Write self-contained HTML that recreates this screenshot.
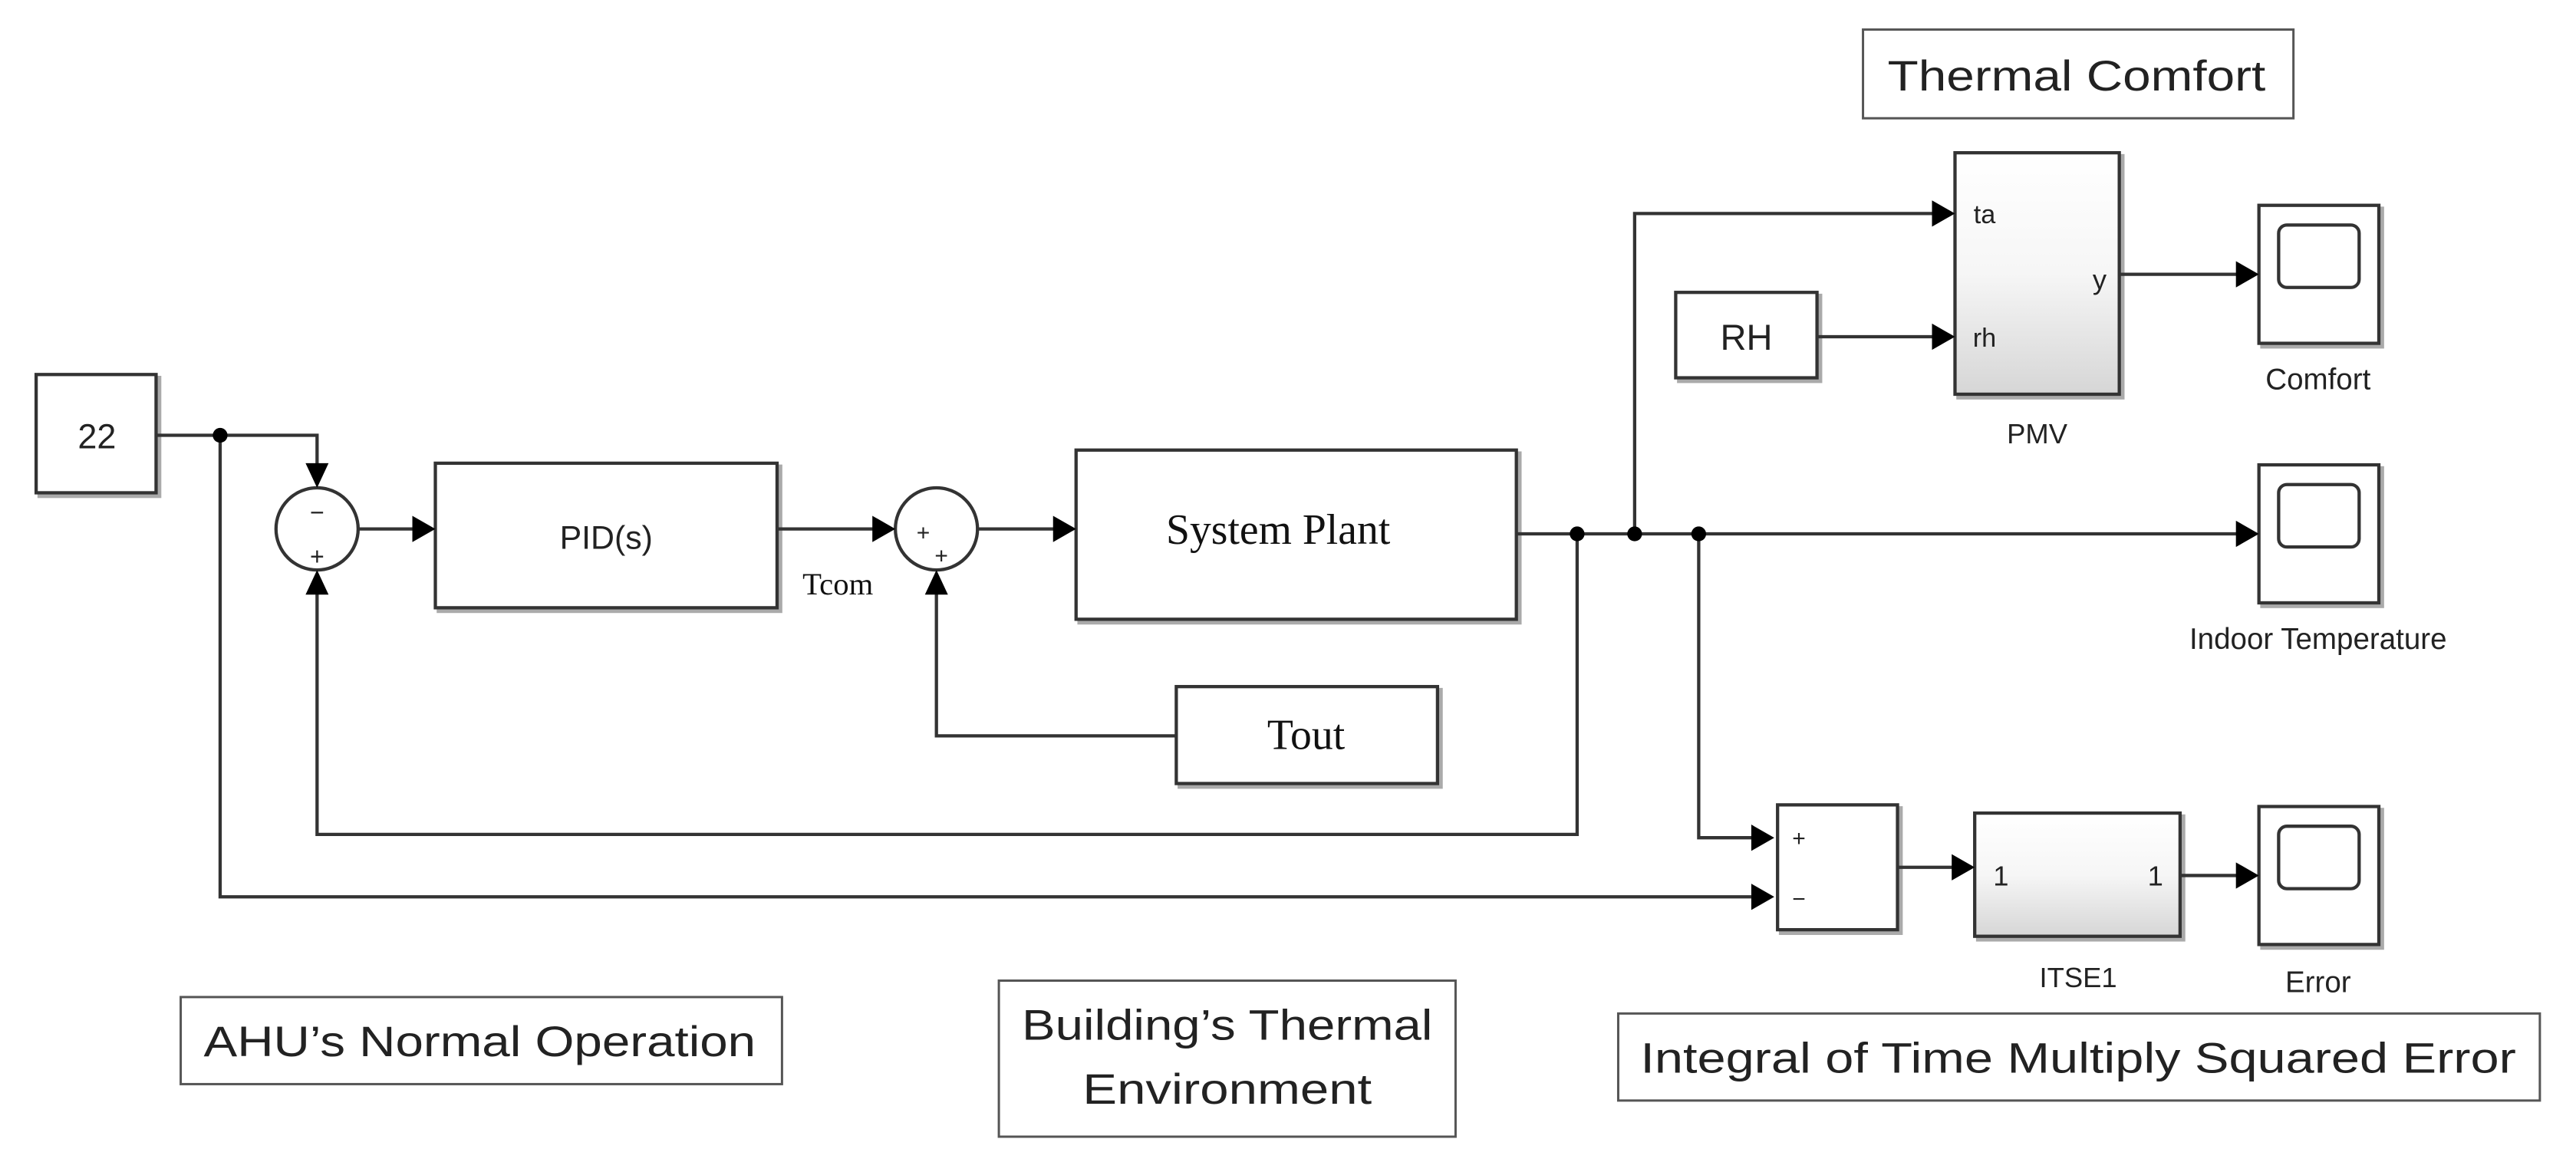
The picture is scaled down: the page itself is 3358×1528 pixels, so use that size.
<!DOCTYPE html>
<html><head><meta charset="utf-8"><style>html,body{margin:0;padding:0;background:#fff}svg{display:block}</style></head>
<body>
<svg width="3358" height="1528" viewBox="0 0 1568 713.5" preserveAspectRatio="none" xmlns="http://www.w3.org/2000/svg">
<defs>
<linearGradient id="g" x1="0" y1="0" x2="0" y2="1"><stop offset="0" stop-color="#fff"/><stop offset="0.5" stop-color="#f6f6f6"/><stop offset="1" stop-color="#d6d6d6"/></linearGradient>
</defs>
<g fill="none" stroke="#333" stroke-width="2">
<g stroke="#aaa" stroke-width="2.4">
<rect x="24" y="230" width="73" height="72"/><rect x="267" y="284" width="208" height="88"/><rect x="657" y="276" width="268" height="103"/><rect x="718" y="420" width="159" height="59"/><rect x="1192" y="95" width="100" height="147"/><rect x="1022" y="180" width="86" height="52"/><rect x="1377" y="127" width="73" height="84"/><rect x="1377" y="285" width="73" height="84"/><rect x="1084" y="492" width="73" height="76"/><rect x="1204" y="497" width="125" height="75"/><rect x="1377" y="493" width="73" height="84"/>
</g>
<rect x="22" y="228" width="73" height="72" fill="#fff"/>
<rect x="265" y="282" width="208" height="88" fill="#fff"/>
<rect x="655" y="274" width="268" height="103" fill="#fff"/>
<rect x="716" y="418" width="159" height="59" fill="#fff"/>
<rect x="1190" y="93" width="100" height="147" fill="url(#g)"/>
<rect x="1020" y="178" width="86" height="52" fill="#fff"/>
<rect x="1375" y="125" width="73" height="84" fill="#fff"/><rect x="1387" y="137" width="49" height="38" rx="5"/>
<rect x="1375" y="283" width="73" height="84" fill="#fff"/><rect x="1387" y="295" width="49" height="38" rx="5"/>
<rect x="1082" y="490" width="73" height="76" fill="#fff"/>
<rect x="1202" y="495" width="125" height="75" fill="url(#g)"/>
<rect x="1375" y="491" width="73" height="84" fill="#fff"/><rect x="1387" y="503" width="49" height="38" rx="5"/>
<circle cx="193" cy="322" r="25" fill="#fff"/>
<circle cx="570" cy="322" r="25" fill="#fff"/>
<g stroke="#555" stroke-width="1.4">
<rect x="1134" y="18" width="262" height="54"/>
<rect x="110" y="607" width="366" height="53"/>
<rect x="608" y="597" width="278" height="95"/>
<rect x="985" y="617" width="561" height="53"/>
</g>
<polyline points="95,265 193,265 193,285"/>
<polyline points="134,265 134,546 1066,546"/>
<line x1="218" y1="322" x2="252" y2="322"/>
<line x1="473" y1="322" x2="532" y2="322"/>
<line x1="595" y1="322" x2="642" y2="322"/>
<polyline points="716,448 570,448 570,360"/>
<polyline points="960,325 960,508 193,508 193,360"/>
<line x1="923" y1="325" x2="1362" y2="325"/>
<polyline points="995,325 995,130 1177,130"/>
<line x1="1106" y1="205" x2="1177" y2="205"/>
<line x1="1290" y1="167" x2="1362" y2="167"/>
<polyline points="1034,325 1034,510 1068,510"/>
<line x1="1155" y1="528" x2="1189" y2="528"/>
<line x1="1327" y1="533" x2="1362" y2="533"/>
</g>
<g fill="#000">
<circle cx="134" cy="265" r="4.5"/><circle cx="960" cy="325" r="4.5"/><circle cx="995" cy="325" r="4.5"/><circle cx="1034" cy="325" r="4.5"/>
<polygon points="186,282 200,282 193,297"/>
<polygon points="186,362 200,362 193,347"/>
<polygon points="563,362 577,362 570,347"/>
<polygon points="251,314 251,330 265,322"/>
<polygon points="531,314 531,330 545,322"/>
<polygon points="641,314 641,330 655,322"/>
<polygon points="1361,317 1361,333 1375,325"/>
<polygon points="1176,122 1176,138 1190,130"/>
<polygon points="1176,197 1176,213 1190,205"/>
<polygon points="1361,159 1361,175 1375,167"/>
<polygon points="1066,502 1066,518 1080,510"/>
<polygon points="1066,538 1066,554 1080,546"/>
<polygon points="1188,520 1188,536 1202,528"/>
<polygon points="1361,525 1361,541 1375,533"/>
</g>
<g font-family="Liberation Sans, Arial, sans-serif" fill="#222" text-anchor="middle">
<text x="59" y="273" font-size="21">22</text>
<text x="369" y="334" font-size="20">PID(s)</text>
<text x="193" y="317" font-size="15">−</text><text x="193" y="344" font-size="15">+</text>
<text x="562" y="329" font-size="14">+</text><text x="573" y="343" font-size="14">+</text>
<text x="1063" y="213" font-size="22">RH</text>
<text x="1208" y="136" font-size="16">ta</text>
<text x="1208" y="211" font-size="16">rh</text>
<text x="1278" y="176" font-size="17">y</text>
<text x="1240" y="270" font-size="17">PMV</text>
<text x="1411" y="237" font-size="18">Comfort</text>
<text x="1411" y="395" font-size="18">Indoor Temperature</text>
<text x="1095" y="515" font-size="14">+</text><text x="1095" y="552" font-size="14">−</text>
<text x="1218" y="539" font-size="17">1</text><text x="1312" y="539" font-size="17">1</text>
<text x="1265" y="601" font-size="17">ITSE1</text>
<text x="1411" y="604" font-size="18">Error</text>
</g>
<g font-family="Liberation Serif, serif" fill="#111" text-anchor="middle">
<text x="778" y="331" font-size="26">System Plant</text>
<text x="795" y="456" font-size="26">Tout</text>
<text x="510" y="362" font-size="19">Tcom</text>
</g>
<g font-family="Liberation Sans, Arial, sans-serif" fill="#222" text-anchor="middle">
<text x="1264" y="55" font-size="26" textLength="230" lengthAdjust="spacingAndGlyphs">Thermal Comfort</text>
<text x="292" y="643" font-size="26" textLength="336" lengthAdjust="spacingAndGlyphs">AHU’s Normal Operation</text>
<text x="747" y="633" font-size="26" textLength="250" lengthAdjust="spacingAndGlyphs">Building’s Thermal</text>
<text x="747" y="672" font-size="26" textLength="176" lengthAdjust="spacingAndGlyphs">Environment</text>
<text x="1265" y="653" font-size="26" textLength="533" lengthAdjust="spacingAndGlyphs">Integral of Time Multiply Squared Error</text>
</g>
</svg>
</body></html>
